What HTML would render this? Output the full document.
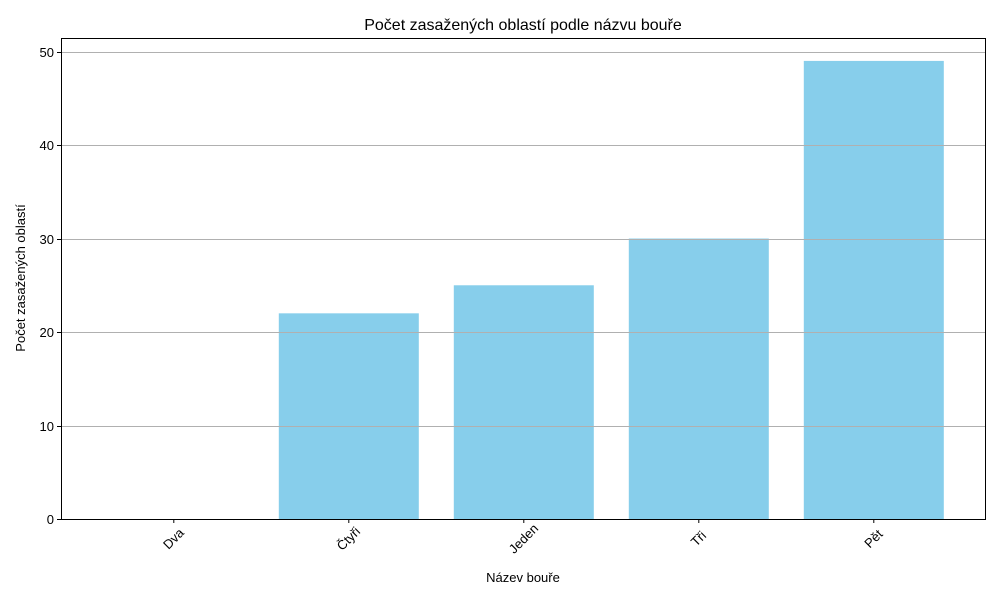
<!DOCTYPE html>
<html><head><meta charset="utf-8"><style>body{margin:0;background:#fff}svg{font-family:"Liberation Sans","DejaVu Sans",sans-serif}</style></head>
<body>
<svg id="chart" width="1000" height="600" xmlns="http://www.w3.org/2000/svg">
<rect width="1000" height="600" fill="#fff"/>
<text x="523" y="30" font-size="16" text-anchor="middle">Počet zasažených oblastí podle názvu bouře</text>
<g id="bars"></g><g id="grid"></g><g id="axes"></g>
<text x="523" y="582" font-size="13" text-anchor="middle">Název bouře</text>
<text transform="translate(25,278) rotate(-90)" font-size="13" text-anchor="middle">Počet zasažených oblastí</text>
</svg>
<script>
const categories = ["Dva","Čtyři","Jeden","Tři","Pět"];
const values = [0,22,25,30,49];
const yTicks = [0,10,20,30,40,50];
const L=61,R=985,T=38,B=519;
const yMax=51.45;
const xs=i=>L+0.8+(i+0.64)/5.28*(R-L);
const ys=v=>B-v/yMax*(B-T);
const bw=0.8/5.28*(R-L);
const NS="http://www.w3.org/2000/svg";
function mk(t,a,p){const e=document.createElementNS(NS,t);for(const k in a)e.setAttribute(k,a[k]);p.appendChild(e);return e;}
const bars=document.getElementById('bars'),grid=document.getElementById('grid'),axes=document.getElementById('axes');
values.forEach((v,i)=>{
  const r=mk('rect',{x:xs(i)-bw/2,y:ys(v),width:bw,height:B-ys(v),fill:'#87ceeb'},bars);
  
  
});
yTicks.forEach(t=>{
  const y=Math.round(ys(t))+0.5;
  const g=mk('line',{x1:L,x2:R,y1:y,y2:y,stroke:'#b0b0b0','stroke-width':1},grid);
  
  
  mk('line',{x1:L-4,x2:L,y1:y,y2:y,stroke:'#000'},axes);
  const tx=mk('text',{x:L-7,y:y+4.5,'font-size':13,'text-anchor':'end'},axes);
  tx.textContent=t;
  
  
});
categories.forEach((c,i)=>{
  const x=xs(i);
  mk('line',{x1:x,x2:x,y1:B,y2:B+4,stroke:'#000'},axes);
  const tx=mk('text',{transform:`translate(${x},${B+20}) rotate(-45)`,'font-size':13,'text-anchor':'middle',dy:'4'},axes);
  tx.textContent=c;
  
  
});
const f=mk('rect',{x:L+0.5,y:T+0.5,width:R-L,height:B-T,fill:'none',stroke:'#000','stroke-width':1},axes);


</script>
</body></html>
